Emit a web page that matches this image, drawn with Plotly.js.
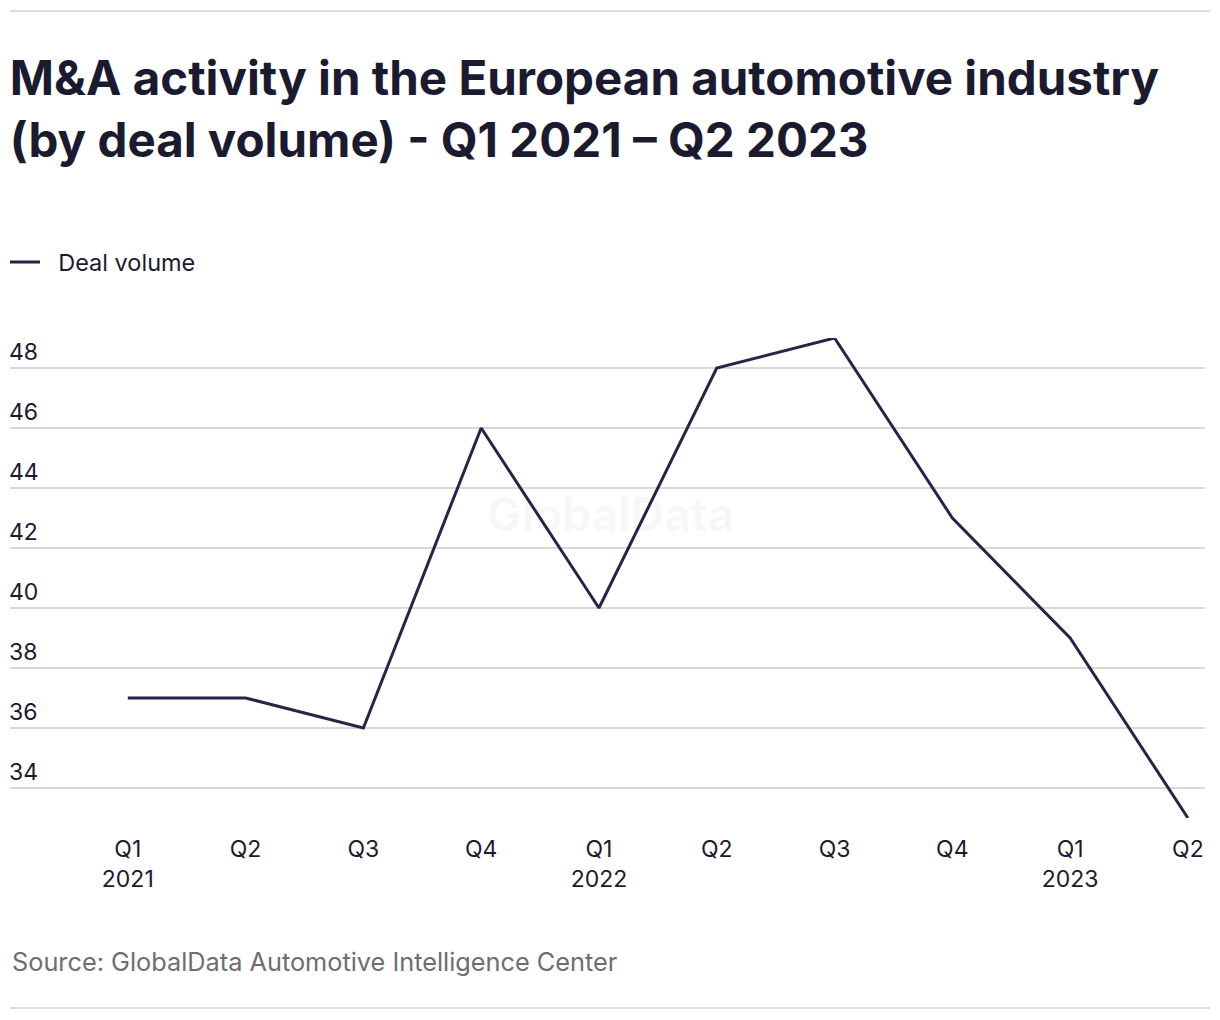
<!DOCTYPE html>
<html>
<head>
<meta charset="utf-8">
<script src="https://cdn.plot.ly/plotly-3.0.1.min.js"></script>
<style>
  html, body { margin: 0; padding: 0; background: #fff; }
  #chart { width: 1220px; height: 1020px; }
</style>
</head>
<body>
<div id="chart"></div>
<script>
const quarters = [0, 1, 2, 3, 4, 5, 6, 7, 8, 9];
const tickLabels = ["Q1<br>2021", "Q2", "Q3", "Q4", "Q1<br>2022", "Q2", "Q3", "Q4", "Q1<br>2023", "Q2"];
const dealVolume = [37, 37, 36, 46, 40, 48, 49, 43, 39, 33];
const yTicks = [34, 36, 38, 40, 42, 44, 46, 48];

const fontFam = "Inter, 'Noto Sans', sans-serif";
const ink = "#1b1b30";

const trace = {
  x: quarters,
  y: dealVolume,
  type: "scatter",
  mode: "lines",
  name: "\u00a0\u00a0Deal volume",
  line: { color: "#25254a", width: 3 },
  hoverinfo: "skip"
};

const layout = {
  width: 1220,
  height: 1020,
  paper_bgcolor: "#fff",
  plot_bgcolor: "#fff",
  margin: { l: 10, r: 15, t: 338, b: 202 },
  font: { family: fontFam, color: ink, size: 23 },
  title: {
    text: "<b>M&A activity in the European automotive industry<br>(by deal volume) - Q1 2021 – Q2 2023</b>",
    xref: "container", yref: "container",
    x: 0.008, xanchor: "left",
    y: 0.907, yanchor: "top",
    font: { family: fontFam, size: 47.5, color: ink }
  },
  showlegend: true,
  legend: {
    xref: "container", yref: "container",
    x: 5 / 1220, xanchor: "left",
    y: 0.743, yanchor: "middle",
    orientation: "h",
    itemwidth: 30,
    font: { family: fontFam, size: 23.5, color: ink },
    bgcolor: "rgba(0,0,0,0)"
  },
  xaxis: {
    range: [-1.0, 9.145],
    tickmode: "array",
    tickvals: quarters,
    ticktext: tickLabels,
    showgrid: false,
    zeroline: false,
    showline: false,
    ticks: "outside",
    ticklen: 10,
    tickcolor: "rgba(0,0,0,0)",
    tickfont: { family: fontFam, size: 23, color: ink },
    fixedrange: true
  },
  yaxis: {
    range: [33, 49],
    tickmode: "array",
    tickvals: yTicks,
    showgrid: true,
    gridcolor: "#d9d9d9",
    gridwidth: 1.5,
    zeroline: false,
    showline: false,
    ticklabelposition: "inside top",
    ticklabeloverflow: "allow",
    ticklabelstandoff: -4,
    tickfont: { family: fontFam, size: 23, color: ink },
    fixedrange: true
  },
  shapes: [
    { type: "line", xref: "paper", yref: "paper", x0: 0, x1: 1.004, y0: 1.68125, y1: 1.68125, line: { color: "#dcdcdc", width: 2 } },
    { type: "line", xref: "paper", yref: "paper", x0: 0, x1: 1.004, y0: -0.3958, y1: -0.3958, line: { color: "#dcdcdc", width: 2 } }
  ],
  annotations: [
    {
      text: "<b>GlobalData</b>", xref: "paper", yref: "paper",
      x: 0.503, y: 0.634, xanchor: "center", yanchor: "middle",
      showarrow: false,
      font: { family: fontFam, size: 46, color: "rgba(0,0,0,0.035)" }
    },
    {
      text: "Source: GlobalData Automotive Intelligence Center", xref: "paper", yref: "paper",
      x: 0, y: -0.298, xanchor: "left", yanchor: "middle",
      showarrow: false,
      font: { family: fontFam, size: 25.3, color: "#6e6e6e" }
    }
  ]
};

Plotly.newPlot("chart", [trace], layout, { displayModeBar: false, staticPlot: true });
</script>
</body>
</html>
